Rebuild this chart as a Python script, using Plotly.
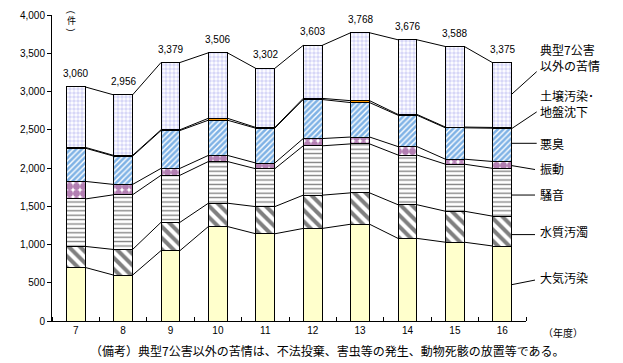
import plotly.graph_objects as go

years = ["7", "8", "9", "10", "11", "12", "13", "14", "15", "16"]
taiki = [700, 600, 920, 1235, 1140, 1210, 1265, 1080, 1030, 980]
suishitsu = [275, 335, 370, 305, 355, 435, 410, 440, 405, 390]
souon = [620, 715, 615, 545, 495, 645, 640, 650, 615, 625]
shindou = [230, 135, 90, 80, 75, 95, 90, 110, 65, 90]
akushuu = [435, 370, 495, 460, 455, 510, 450, 410, 410, 435]
dojou = [10, 10, 10, 25, 10, 15, 25, 10, 10, 10]
sonota = [790, 791, 879, 856, 772, 693, 888, 976, 1053, 845]
totals = [3060, 2956, 3379, 3506, 3302, 3603, 3768, 3676, 3588, 3375]
total_labels = ["3,060", "2,956", "3,379", "3,506", "3,302", "3,603", "3,768", "3,676", "3,588", "3,375"]

series = [
    ("大気汚染", taiki, dict(color="#FFFFCC")),
    ("水質汚濁", suishitsu, dict(color="white", pattern=dict(shape="\\", fgcolor="black", bgcolor="white", size=8, solidity=0.5))),
    ("騒音", souon, dict(color="white", pattern=dict(shape="-", fgcolor="black", bgcolor="white", size=4.4, solidity=0.3))),
    ("振動", shindou, dict(color="white", pattern=dict(shape=".", fgcolor="#660066", bgcolor="white", size=7, solidity=0.75))),
    ("悪臭", akushuu, dict(color="white", pattern=dict(shape="/", fgcolor="#0066CC", bgcolor="white", size=4, solidity=0.65))),
    ("土壌汚染・地盤沈下", dojou, dict(color="#FF9900")),
    ("典型7公害以外の苦情", sonota, dict(color="white", pattern=dict(shape=".", fgcolor="#B0B0F0", bgcolor="white", size=4, solidity=0.6))),
]

xs = list(range(len(years)))
BW = 0.4
fig = go.Figure()
for name, vals, mk in series:
    mk = dict(mk)
    mk["line"] = dict(color="black", width=1)
    fig.add_trace(go.Bar(x=xs, y=vals, name=name, marker=mk, width=BW, showlegend=False))

# connector lines between bars at each cumulative boundary
cum = [0] * len(years)
for name, vals, mk in series:
    cum = [c + v for c, v in zip(cum, vals)]
    lx, ly = [], []
    for i in range(len(years) - 1):
        lx += [i + BW / 2, i + 1 - BW / 2, None]
        ly += [cum[i], cum[i + 1], None]
    fig.add_trace(go.Scatter(x=lx, y=ly, mode="lines", line=dict(color="black", width=1),
                             showlegend=False, hoverinfo="skip"))

L, R, T, B = 52, 526, 9.3, 321.0
W, H = 623, 363

def px(x):
    return (x - L) / (R - L)

def py(y):
    return (B - y) / (B - T)

annots = []
for i, (t, lab) in enumerate(zip(totals, total_labels)):
    annots.append(dict(x=i, y=t, xref="x", yref="y", text=lab, showarrow=False,
                       yanchor="bottom", yshift=6, font=dict(size=10, color="black", family="Liberation Sans")))

jp = "Noto Sans CJK JP"
right_labels = [
    ("典型7公害<br>以外の苦情", 53),
    ("土壌汚染･<br>地盤沈下", 99),
    ("悪臭", 140),
    ("振動", 166),
    ("騒音", 192),
    ("水質汚濁", 230),
    ("大気汚染", 277),
]
for txt, yy in right_labels:
    annots.append(dict(x=px(538), y=py(yy), xref="paper", yref="paper", text=txt, showarrow=False,
                       xanchor="left", yanchor="middle", align="left",
                       font=dict(size=12, color="black", family=jp)))

leaders = [
    ((511.7, 90), (536.7, 67)),
    ((511.7, 125), (536.7, 108)),
    ((511.7, 140), (536.7, 140)),
    ((511.7, 162.7), (535, 166.7)),
    ((511.7, 192.7), (535, 192.7)),
    ((511.7, 233), (535, 233)),
    ((511.7, 284), (535, 279.3)),
]
shapes = []
for (x0, y0), (x1, y1) in leaders:
    shapes.append(dict(type="line", xref="paper", yref="paper", x0=px(x0), y0=py(y0), x1=px(x1), y1=py(y1),
                       line=dict(color="black", width=1)))

# unit label (vertical)
annots.append(dict(x=px(71), y=py(6), xref="paper", yref="paper", text="(", textangle=90, showarrow=False,
                   xanchor="center", yanchor="middle", font=dict(size=9, color="black", family="Liberation Sans")))
annots.append(dict(x=px(71), y=py(15), xref="paper", yref="paper", text="件", showarrow=False,
                   xanchor="center", yanchor="middle", font=dict(size=9, color="black", family=jp)))
annots.append(dict(x=px(71), y=py(24), xref="paper", yref="paper", text=")", textangle=90, showarrow=False,
                   xanchor="center", yanchor="middle", font=dict(size=9, color="black", family="Liberation Sans")))

annots.append(dict(x=px(541), y=py(333), xref="paper", yref="paper", text="（年度）", showarrow=False,
                   xanchor="left", yanchor="middle", font=dict(size=10, color="black", family=jp)))
annots.append(dict(x=px(88), y=py(351), xref="paper", yref="paper",
                   text="（備考）典型7公害以外の苦情は、不法投棄、害虫等の発生、動物死骸の放置等である。",
                   showarrow=False, xanchor="left", yanchor="middle",
                   font=dict(size=12, color="black", family=jp)))

fig.update_layout(
    barmode="stack",
    width=W, height=H,
    margin=dict(l=L, r=W - R, t=T, b=H - B),
    paper_bgcolor="white", plot_bgcolor="white",
    annotations=annots, shapes=shapes,
    font=dict(family="Liberation Sans", size=10, color="black"),
    xaxis=dict(range=[-0.5, len(years) - 0.5], tickmode="array", tickvals=xs, ticktext=years,
               ticks="", showline=True, linecolor="black", linewidth=1, showgrid=False, zeroline=False,
               tickfont=dict(size=10), fixedrange=True,
               minor=dict(tick0=0.5, dtick=1, ticks="inside", ticklen=4, tickcolor="black", showgrid=False)),
    yaxis=dict(range=[0, 4000], tickmode="linear", tick0=0, dtick=500, tickformat=",d",
               ticks="outside", ticklen=4, tickcolor="black", showline=True, linecolor="black", linewidth=1,
               showgrid=False, zeroline=False, tickfont=dict(size=10)),
)

fig.write_html("out.html", config={"displayModeBar": False},
               post_script="document.body.style.margin='0';document.body.style.overflow='hidden';")
